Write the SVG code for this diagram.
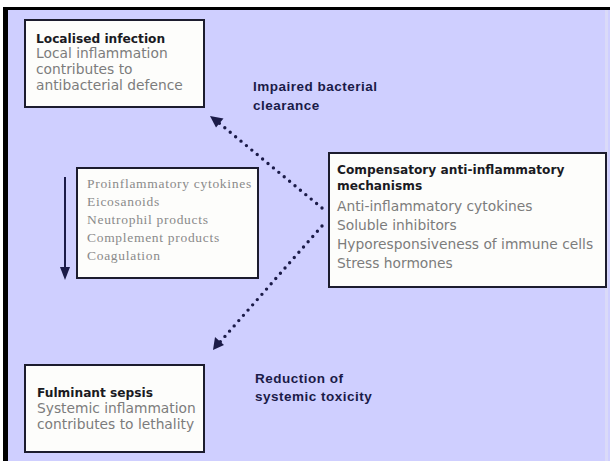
<svg xmlns="http://www.w3.org/2000/svg" width="610" height="461" viewBox="0 0 610 461">
<style>
.box{fill:#fdfdfb;stroke:#1c1c2e;stroke-width:2}
.title{font-family:"DejaVu Sans",sans-serif;font-weight:bold;font-size:12.2px;fill:#1a1a22}
.body{font-family:"DejaVu Sans",sans-serif;font-size:13.8px;fill:#7c7c7c}
.serif{font-family:"Liberation Serif",serif;font-size:13.5px;letter-spacing:0.7px;fill:#8a8a8a}
.lbl{font-family:"Liberation Sans",Arial,sans-serif;font-weight:bold;font-size:13.5px;letter-spacing:0.5px;fill:#1b1b48}
.dot{fill:none;stroke:#1b1b48;stroke-width:3.4;stroke-linecap:round;stroke-dasharray:0 7}
</style>
<rect x="0" y="0" width="610" height="461" fill="#ffffff"/>
<rect x="3" y="7" width="607" height="3" fill="#000000"/>
<rect x="3" y="7" width="5" height="454" fill="#000000"/>
<rect x="8" y="10" width="602" height="451" fill="#cfcfff"/>
<rect x="605" y="10" width="3" height="451" fill="#dadaf8"/>

<g id="localised">
<rect class="box" x="25" y="20" width="179" height="87"/>
<text class="title" x="36" y="43">Localised infection</text>
<text class="body" x="36" y="58">Local inflammation</text>
<text class="body" x="36" y="74">contributes to</text>
<text class="body" x="36" y="90">antibacterial defence</text>
</g>

<g id="mediators">
<rect class="box" x="77" y="168" width="181" height="110"/>
<text class="serif" x="87" y="188">Proinflammatory cytokines</text>
<text class="serif" x="87" y="206">Eicosanoids</text>
<text class="serif" x="87" y="224">Neutrophil products</text>
<text class="serif" x="87" y="242">Complement products</text>
<text class="serif" x="87" y="260">Coagulation</text>
</g>

<g id="compensatory">
<rect class="box" x="329" y="153" width="277" height="134"/>
<text class="title" x="337" y="174">Compensatory anti-inflammatory</text>
<text class="title" x="337" y="190">mechanisms</text>
<text class="body" x="337" y="211">Anti-inflammatory cytokines</text>
<text class="body" x="337" y="230">Soluble inhibitors</text>
<text class="body" x="337" y="249">Hyporesponsiveness of immune cells</text>
<text class="body" x="337" y="268">Stress hormones</text>
</g>

<g id="fulminant">
<rect class="box" x="25" y="365" width="179" height="87"/>
<text class="title" x="37" y="397">Fulminant sepsis</text>
<text class="body" x="37" y="413">Systemic inflammation</text>
<text class="body" x="37" y="429">contributes to lethality</text>
</g>

<g id="label-impaired">
<text class="lbl" x="253" y="91">Impaired bacterial</text>
<text class="lbl" x="253" y="110">clearance</text>
</g>

<g id="label-reduction">
<text class="lbl" x="255" y="383">Reduction of</text>
<text class="lbl" x="255" y="401">systemic toxicity</text>
</g>

<g id="connectors">
<line x1="65" y1="177" x2="65" y2="268" stroke="#1b1b48" stroke-width="2"/>
<path d="M60,267 L70,267 L65,280 z" fill="#1b1b48"/>
<line class="dot" x1="322" y1="208" x2="219" y2="123"/>
<path d="M210,116 L223.5,118.5 L216,127.5 z" fill="#1b1b48"/>
<line class="dot" x1="322" y1="226" x2="220" y2="342"/>
<path d="M213,350 L215,337 L224,345 z" fill="#1b1b48"/>
</g>
</svg>
